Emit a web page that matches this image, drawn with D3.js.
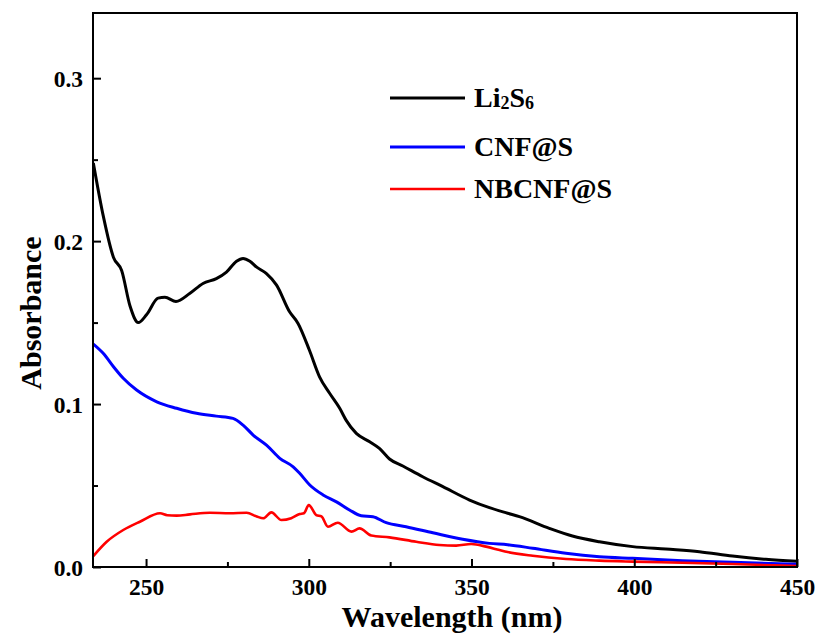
<!DOCTYPE html>
<html><head><meta charset="utf-8">
<script src="https://cdn.jsdelivr.net/npm/d3@7"></script>
<style>body{margin:0;background:#fff}svg{display:block}text{font-family:"Liberation Serif","Times New Roman",serif;font-weight:bold;fill:#000}</style>
</head><body>
<svg id="c" width="817" height="639"></svg>
<script>
const seriesNames = ["Li2S6", "CNF@S", "NBCNF@S"];
const seriesColors = ["#000000", "#0000ff", "#ff0000"];
const xTicks = [250, 300, 350, 400, 450];
const yTicks = [0.0, 0.1, 0.2, 0.3];

const li2s6 = [[233.8,0.248],[236.9,0.215],[240,0.190],[242.5,0.182],[245.1,0.160],[247.6,0.150],[250.2,0.155],[253.7,0.165],[255.8,0.1655],[259.2,0.163],[263.5,0.168],[267.5,0.174],[271.6,0.177],[274.7,0.181],[277.8,0.1877],[279.8,0.1894],[281.9,0.1877],[284,0.184],[287,0.180],[290.1,0.173],[294.1,0.1566],[296.7,0.1495],[300.2,0.133],[303.3,0.1167],[306.4,0.1066],[309.5,0.0974],[311.5,0.090],[314.6,0.082],[318.7,0.0769],[321.7,0.0728],[324.8,0.0663],[328.9,0.062],[335,0.0554],[341.2,0.0493],[349.4,0.0411],[355.5,0.0364],[361.1,0.033],[364.7,0.0309],[373.9,0.0237],[381,0.019],[389.3,0.0155],[399.5,0.0125],[409.7,0.011],[420,0.0094],[430.2,0.0067],[440.4,0.0047],[450,0.0035]];

const cnf = [[233.8,0.1368],[236.9,0.131],[240,0.1229],[243,0.1158],[247.1,0.1086],[253.3,0.1014],[259.4,0.0974],[265.5,0.0943],[271.6,0.0926],[276.7,0.0912],[279.8,0.0871],[282.9,0.081],[287,0.0748],[291.1,0.0667],[295.2,0.0615],[297.2,0.0575],[300.3,0.0503],[304.4,0.0442],[308.5,0.040],[312.5,0.035],[316.1,0.0315],[319.7,0.0309],[323.8,0.0272],[329.9,0.0247],[338.1,0.021],[347.3,0.017],[355.5,0.0145],[361.1,0.0137],[368.8,0.0115],[379,0.0084],[389.3,0.0063],[399.5,0.0053],[414.8,0.0039],[430.2,0.0029],[450,0.0017]];

const nbcnf = [[233.8,0.0067],[237.9,0.0155],[243,0.0227],[248.1,0.0278],[254.3,0.033],[256.5,0.0318],[259.4,0.0315],[263.5,0.0323],[269.6,0.0333],[275.7,0.033],[280.9,0.0333],[284,0.031],[286,0.0299],[288.5,0.0335],[291.6,0.0288],[294.6,0.0299],[297.2,0.0325],[298.5,0.033],[300,0.038],[302.3,0.0319],[303.9,0.031],[305.9,0.0247],[308.9,0.0272],[313.1,0.0217],[315.6,0.0237],[319.2,0.0193],[324.8,0.0182],[333,0.0155],[340.1,0.0135],[345.3,0.0131],[349.9,0.0141],[354.5,0.0125],[358.6,0.0104],[361.1,0.0092],[368.8,0.0069],[379,0.0049],[389.3,0.0039],[399.5,0.0033],[414.8,0.0026],[430.2,0.0018],[450,0.0006]];

const allSeries = [li2s6, cnf, nbcnf];

const svg = d3.select("#c");
const L = 93, R = 797, T = 13, B = 567;
const x = d3.scaleLinear().domain([233.7, 450]).range([L, R]);
const y = d3.scaleLinear().domain([0, 0.34]).range([B, T]);

const line = d3.line().x(d => x(d[0])).y(d => y(d[1])).curve(d3.curveMonotoneX);
svg.append("clipPath").attr("id","clp").append("rect").attr("x",L).attr("y",T).attr("width",R-L).attr("height",B-T);

const widths = [3, 3, 2.6];
allSeries.forEach((s, i) => {
  svg.append("path").attr("d", line(s)).attr("fill","none").attr("stroke",seriesColors[i])
    .attr("stroke-width",widths[i]).attr("stroke-linejoin","round").attr("clip-path","url(#clp)");
});

const xAxis = d3.axisBottom(x).tickValues(xTicks).tickSizeInner(-8).tickSizeOuter(0).tickFormat(d3.format("d"));
const xMinor = d3.axisBottom(x).tickValues([275,325,375,425]).tickSizeInner(-5).tickSizeOuter(0).tickFormat("");
const yAxis = d3.axisLeft(y).tickValues(yTicks).tickSizeInner(-8).tickSizeOuter(0).tickFormat(d3.format(".1f"));
const yMinor = d3.axisLeft(y).tickValues([0.05,0.15,0.25]).tickSizeInner(-5).tickSizeOuter(0).tickFormat("");

function style(g){
  g.select(".domain").remove();
  g.selectAll("line").attr("stroke","#000").attr("stroke-width",2);
  g.selectAll("text").attr("font-family",'"Liberation Serif","Times New Roman",serif').attr("font-weight","bold").attr("font-size",23.5).attr("fill","#000");
}
const gx = svg.append("g").attr("transform",`translate(0,${B})`).call(xAxis).call(style);
gx.selectAll("text").attr("dy",null).attr("y",28);
svg.append("g").attr("transform",`translate(0,${B})`).call(xMinor).call(style);
const gy = svg.append("g").attr("transform",`translate(${L},0)`).call(yAxis).call(style);
gy.selectAll("text").attr("x",-10).attr("dy","0.34em");
svg.append("g").attr("transform",`translate(${L},0)`).call(yMinor).call(style);

svg.append("rect").attr("x",L).attr("y",T).attr("width",R-L).attr("height",B-T)
  .attr("fill","none").attr("stroke","#000").attr("stroke-width",2);

svg.append("text").attr("x",452).attr("y",627).attr("text-anchor","middle").attr("font-size",30).text("Wavelength (nm)");
svg.append("text").attr("transform",`translate(41,313) rotate(-90)`).attr("text-anchor","middle").attr("font-size",30).text("Absorbance");

const legY = [98, 147, 189];
seriesNames.forEach((n, i) => {
  svg.append("line").attr("x1",390).attr("x2",465).attr("y1",legY[i]).attr("y2",legY[i])
    .attr("stroke",seriesColors[i]).attr("stroke-width",widths[i]);
  const t = svg.append("text").attr("x",474).attr("y",legY[i]+9).attr("font-size",28);
  if (n === "Li2S6") {
    t.append("tspan").text("Li");
    t.append("tspan").attr("font-size",18).attr("dy",2).text("2");
    t.append("tspan").attr("dy",-2).text("S");
    t.append("tspan").attr("font-size",18).attr("dy",2).text("6");
  } else t.text(n);
});
</script>
</body></html>
